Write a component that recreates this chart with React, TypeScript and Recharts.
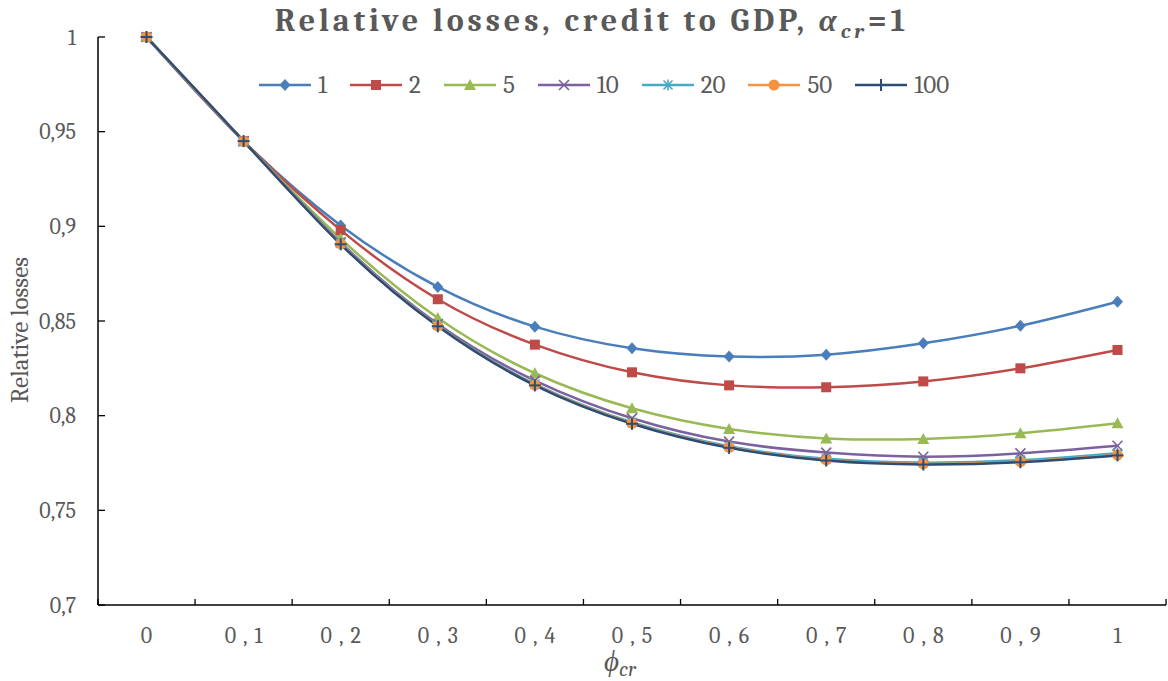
import React from 'react';
import { LineChart, Line, XAxis, YAxis } from 'recharts';

// phi_cr grid
const phiLabels = ['0', '0,1', '0,2', '0,3', '0,4', '0,5', '0,6', '0,7', '0,8', '0,9', '1'];

// relative losses for each alpha-multiplier
const loss1 = [1, 0.945, 0.9005, 0.868, 0.847, 0.8356, 0.8312, 0.8322, 0.8382, 0.8475, 0.8602];
const loss2 = [1, 0.945, 0.898, 0.8615, 0.8375, 0.8229, 0.816, 0.815, 0.8181, 0.825, 0.8347];
const loss5 = [1, 0.945, 0.8935, 0.8516, 0.8224, 0.8039, 0.793, 0.788, 0.7877, 0.7907, 0.796];
const loss10 = [1, 0.945, 0.8915, 0.8484, 0.8185, 0.7986, 0.7863, 0.7805, 0.7783, 0.7801, 0.7841];
const loss20 = [1, 0.945, 0.891, 0.8476, 0.8167, 0.7965, 0.7838, 0.7772, 0.7752, 0.7765, 0.7802];
const loss50 = [1, 0.945, 0.8907, 0.8474, 0.8162, 0.796, 0.7833, 0.7766, 0.7745, 0.7757, 0.7792];
const loss100 = [1, 0.945, 0.8905, 0.8472, 0.816, 0.7957, 0.783, 0.7763, 0.7742, 0.7754, 0.779];

const yTicks = [0.7, 0.75, 0.8, 0.85, 0.9, 0.95, 1];
const yTickLabels = ['0,7', '0,75', '0,8', '0,85', '0,9', '0,95', '1'];

const data = phiLabels.map((phi, i) => ({
  phi,
  s1: loss1[i],
  s2: loss2[i],
  s5: loss5[i],
  s10: loss10[i],
  s20: loss20[i],
  s50: loss50[i],
  s100: loss100[i],
}));

const W = 1168;
const H = 681;
const PLOT_LEFT = 98;
const PLOT_RIGHT = 2;
const TEXT = '#595959';
const SERIF = 'Cambria, "Liberation Serif", "DejaVu Serif", serif';

type Shape = 'diamond' | 'square' | 'triangle' | 'x' | 'star' | 'circle' | 'plus';

const series: { key: string; name: string; color: string; shape: Shape }[] = [
  { key: 's1', name: '1', color: '#4A7EBB', shape: 'diamond' },
  { key: 's2', name: '2', color: '#BE4B48', shape: 'square' },
  { key: 's5', name: '5', color: '#98B954', shape: 'triangle' },
  { key: 's10', name: '10', color: '#7D60A0', shape: 'x' },
  { key: 's20', name: '20', color: '#46AAC5', shape: 'star' },
  { key: 's50', name: '50', color: '#F69240', shape: 'circle' },
  { key: 's100', name: '100', color: '#2C4D75', shape: 'plus' },
];

function Marker({ cx, cy, shape, color }: { cx: number; cy: number; shape: Shape; color: string }) {
  switch (shape) {
    case 'diamond':
      return <polygon points={`${cx},${cy - 6} ${cx + 5.5},${cy} ${cx},${cy + 6} ${cx - 5.5},${cy}`} fill={color} />;
    case 'square':
      return <rect x={cx - 5} y={cy - 5} width={10} height={10} fill={color} />;
    case 'triangle':
      return <polygon points={`${cx},${cy - 6} ${cx + 6},${cy + 5} ${cx - 6},${cy + 5}`} fill={color} />;
    case 'x':
      return (
        <g stroke={color} strokeWidth={1.6}>
          <line x1={cx - 5} y1={cy - 5} x2={cx + 5} y2={cy + 5} />
          <line x1={cx - 5} y1={cy + 5} x2={cx + 5} y2={cy - 5} />
        </g>
      );
    case 'star':
      return (
        <g stroke={color} strokeWidth={1.6}>
          <line x1={cx - 4.5} y1={cy - 4.5} x2={cx + 4.5} y2={cy + 4.5} />
          <line x1={cx - 4.5} y1={cy + 4.5} x2={cx + 4.5} y2={cy - 4.5} />
          <line x1={cx} y1={cy - 5.5} x2={cx} y2={cy + 5.5} />
        </g>
      );
    case 'circle':
      return <circle cx={cx} cy={cy} r={5.5} fill={color} />;
    case 'plus':
    default:
      return (
        <g stroke={color} strokeWidth={2}>
          <line x1={cx - 6} y1={cy} x2={cx + 6} y2={cy} />
          <line x1={cx} y1={cy - 6} x2={cx} y2={cy + 6} />
        </g>
      );
  }
}

// category labels centred in each slot, tick marks on the slot boundaries (pointing up)
function XTick(props: any) {
  const { x, y, payload, index } = props;
  const half = (W - PLOT_LEFT - PLOT_RIGHT) / phiLabels.length / 2;
  const label = String(payload.value);
  const spacing = label.length > 1 ? 7 : 0;
  return (
    <g>
      <line x1={x - half} y1={y} x2={x - half} y2={y - 6} stroke="#000" strokeWidth={1.3} />
      {index === phiLabels.length - 1 && (
        <line x1={x + half} y1={y} x2={x + half} y2={y - 6} stroke="#000" strokeWidth={1.3} />
      )}
      <text x={x + spacing / 2} y={y + 38} textAnchor="middle" fill={TEXT} fontFamily={SERIF} fontSize={22} letterSpacing={spacing}>
        {label}
      </text>
    </g>
  );
}

function YTitle(props: any) {
  const vb = props.viewBox || {};
  const cy = (vb.y ?? 37) + (vb.height ?? 568) / 2;
  return (
    <text x={0} y={0} transform={`translate(28, ${cy + 9}) rotate(-90)`} textAnchor="middle" fill={TEXT} fontFamily={SERIF} fontSize={25}>
      Relative losses
    </text>
  );
}

function XTitle(props: any) {
  const vb = props.viewBox || {};
  const cx = (vb.x ?? PLOT_LEFT) + (vb.width ?? 1068) / 2 - 12;
  return (
    <text x={cx} y={671} textAnchor="middle" fill={TEXT} fontFamily={SERIF} fontStyle="italic" fontSize={29}>
      {'\u03D5'}
      <tspan fontSize={21} dy={5}>cr</tspan>
    </text>
  );
}

function LegendRow() {
  return (
    <div
      style={{
        position: 'absolute',
        top: 70,
        left: 258,
        display: 'flex',
        alignItems: 'center',
        gap: 22,
        fontFamily: SERIF,
        fontSize: 25,
        color: TEXT,
      }}
    >
      {series.map((s) => (
        <div key={s.key} style={{ display: 'flex', alignItems: 'center', gap: 6 }}>
          <svg width={54} height={16}>
            <line x1={1} y1={8} x2={53} y2={8} stroke={s.color} strokeWidth={2.5} />
            <Marker cx={27} cy={8} shape={s.shape} color={s.color} />
          </svg>
          <span>{s.name}</span>
        </div>
      ))}
    </div>
  );
}

export default function App() {
  return (
    <div style={{ position: 'absolute', left: 0, top: 0, width: W, height: H, background: '#fff' }}>
      <div
        style={{
          position: 'absolute',
          top: 1,
          left: 0,
          width: W,
          textAlign: 'center',
          paddingLeft: 16,
          boxSizing: 'border-box',
          fontFamily: SERIF,
          fontWeight: 700,
          fontSize: 32,
          lineHeight: '40px',
          letterSpacing: 3.9,
          color: TEXT,
        }}
      >
        Relative losses, credit to GDP,{' '}
        <span style={{ fontStyle: 'italic' }}>
          α<sub style={{ fontSize: 21, lineHeight: 0 }}>cr</sub>
        </span>
        =1
      </div>
      <LegendRow />
      <LineChart width={W} height={H} data={data} margin={{ top: 37, right: PLOT_RIGHT, left: 0, bottom: 0 }}>
        <XAxis
          dataKey="phi"
          height={76}
          padding={{ left: 48.5, right: 48.5 }}
          axisLine={{ stroke: '#000', strokeWidth: 1.5 }}
          tickLine={false}
          tickSize={0}
          tickMargin={0}
          interval={0}
          tick={<XTick />}
          label={<XTitle />}
        />
        <YAxis
          width={PLOT_LEFT}
          domain={[0.7, 1]}
          ticks={yTicks}
          interval={0}
          axisLine={{ stroke: '#000', strokeWidth: 1.5 }}
          tickLine={{ stroke: '#000', strokeWidth: 1.3 }}
          tickSize={-7}
          tickMargin={29}
          tick={{ fill: TEXT, fontFamily: SERIF, fontSize: 22 }}
          tickFormatter={(v: number) => yTickLabels[yTicks.indexOf(v)] ?? String(v)}
          label={<YTitle />}
        />
        {series.map((s) => (
          <Line
            key={s.key}
            dataKey={s.key}
            name={s.name}
            type="natural"
            stroke={s.color}
            strokeWidth={2.5}
            isAnimationActive={false}
            activeDot={false}
            dot={(p: any) => (
              <Marker key={`${s.key}-${p.index}`} cx={p.cx} cy={p.cy} shape={s.shape} color={s.color} />
            )}
          />
        ))}
      </LineChart>
    </div>
  );
}
